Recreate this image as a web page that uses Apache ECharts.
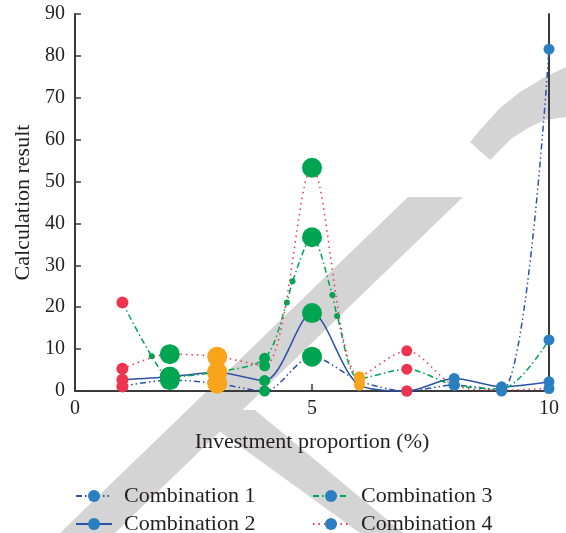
<!DOCTYPE html>
<html>
<head>
<meta charset="utf-8">
<script src="https://cdn.jsdelivr.net/npm/echarts@6/dist/echarts.min.js"></script>
<style>html,body{margin:0;padding:0;background:#fff}#c{width:566px;height:533px}</style>
</head>
<body>
<div id="c"></div>
<script>
// ---- data ----
const seriesNames = ['Combination 1', 'Combination 2', 'Combination 3', 'Combination 4'];
const xValues = [1, 2, 3, 4, 5, 6, 7, 8, 9, 10];
const comb1 = [1.1, 2.6, 1.8, 0.0, 8.2, 2.4, 0.0, 1.4, 0.0, 81.6];
const comb2 = [2.7, 3.4, 4.4, 2.5, 18.6, 1.4, 0.0, 3.0, 1.0, 2.2];
const comb3X = [1, 1.62, 2, 3, 4, 4.47, 4.59, 5, 5.43, 5.53, 6, 7, 8, 9, 10];
const comb3 = [21.1, 8.3, 3.4, 4.6, 7.8, 21.1, 26.2, 36.7, 22.9, 17.9, 3.0, 5.2, 1.4, 0.5, 12.2];
const comb4 = [5.3, 8.8, 8.2, 6.0, 53.3, 3.4, 9.6, 1.4, 0.2, 0.6];
const xTicks = [0, 5, 10];
const yTicks = [0, 10, 20, 30, 40, 50, 60, 70, 80, 90];

// ---- styles ----
const RED = '#ee3350', GREEN = '#00a551', ORANGE = '#f8a51c', BLUE = '#2a7fc0';
const markerColor = {1: RED, 2: GREEN, 3: ORANGE, 4: GREEN, 5: GREEN, 6: ORANGE, 7: RED, 8: BLUE, 9: BLUE, 10: BLUE};
const markerSize = {1: 12, 2: 20, 3: 20, 4: 11, 5: 20, 6: 11, 7: 11, 8: 11, 9: 11, 10: 11};
const lineColors = ['#2b52a8', '#2b52a8', '#00a551', '#ee3350'];
const lineTypes = [[6, 3, 1.5, 3, 1.5, 3], 'solid', [6, 3, 1.5, 3], [1.5, 4]];

function points(xs, ys) {
  return xs.map((x, i) => {
    const isInt = Number.isInteger(x);
    return {
      value: [x, ys[i]],
      symbolSize: isInt ? markerSize[x] : 6,
      itemStyle: { color: isInt ? markerColor[x] : GREEN }
    };
  });
}
const allData = [points(xValues, comb1), points(xValues, comb2), points(comb3X, comb3), points(xValues, comb4)];

const FONT = '"Liberation Serif", "DejaVu Serif", serif';
const TXT = '#231f20';
const axisLine = { show: true, lineStyle: { color: '#3a3a3a', width: 2 } };

const series = seriesNames.map((name, i) => ({
  name: name,
  type: 'line',
  smooth: 0.3,
  clip: false,
  symbol: 'circle',
  data: allData[i],
  itemStyle: { color: BLUE },
  lineStyle: { color: lineColors[i], width: 1.5, type: lineTypes[i] },
  z: 2 + i
}));

const legends = [
  { name: seriesNames[0], left: 75, top: 485 },
  { name: seriesNames[1], left: 75, top: 513 },
  { name: seriesNames[2], left: 312, top: 485 },
  { name: seriesNames[3], left: 312, top: 513 }
].map(l => ({
  data: [l.name], left: l.left, top: l.top, padding: 0,
  itemWidth: 36, itemHeight: 15, selectedMode: false,
  textStyle: { fontFamily: FONT, fontSize: 22, color: TXT, padding: [0, 0, 0, 7] }
}));

// background watermark (light grey decoration)
const WM = '#d4d4d4';
const wmShapes = [
  [[60, 533], [115, 533], [463, 197], [408, 197]],
  [[190, 410], [255, 410], [403, 533], [360, 533]],
  [[470, 142], [480, 130], [500, 108], [520, 92], [545, 77], [566, 67], [566, 117], [545, 120], [530, 127], [512, 138], [500, 150], [490, 160]]
];

const chart = echarts.init(document.getElementById('c'), null, { renderer: 'canvas' });
chart.setOption({
  backgroundColor: '#ffffff',
  animation: false,
  graphic: {
    elements: wmShapes.map(p => ({ type: 'polygon', z: -10, silent: true, shape: { points: p }, style: { fill: WM } }))
  },
  grid: { left: 75, right: 17, top: 14, bottom: 142 },
  legend: legends,
  xAxis: {
    type: 'value', min: xTicks[0], max: xTicks[xTicks.length - 1], interval: xTicks[1] - xTicks[0],
    name: 'Investment proportion (%)', nameLocation: 'middle', nameGap: 40,
    nameTextStyle: { fontFamily: FONT, fontSize: 22, color: TXT },
    axisLine: axisLine,
    axisTick: { show: true, inside: true, length: 7, lineStyle: { color: '#3a3a3a', width: 1.5 } },
    axisLabel: { fontFamily: FONT, fontSize: 20, color: TXT, margin: 8 },
    splitLine: { show: false }
  },
  yAxis: [{
    type: 'value', min: yTicks[0], max: yTicks[yTicks.length - 1], interval: yTicks[1] - yTicks[0],
    name: 'Calculation result', nameLocation: 'middle', nameGap: 40,
    nameTextStyle: { fontFamily: FONT, fontSize: 22, color: TXT },
    axisLine: axisLine,
    axisTick: { show: true, inside: true, length: 6, lineStyle: { color: '#3a3a3a', width: 1.5 } },
    axisLabel: { fontFamily: FONT, fontSize: 20, color: TXT, margin: 10 },
    splitLine: { show: false }
  }, {
    type: 'value', position: 'right', min: yTicks[0], max: yTicks[yTicks.length - 1], interval: yTicks[1] - yTicks[0],
    axisLine: axisLine, axisTick: { show: false }, axisLabel: { show: false }, splitLine: { show: false }
  }],
  series: series
});
</script>
</body>
</html>
